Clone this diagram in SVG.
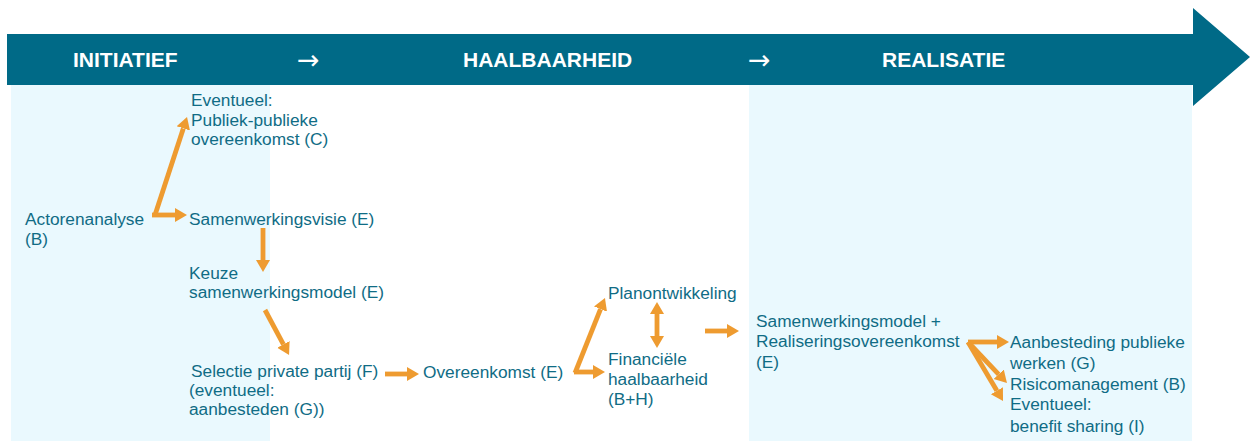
<svg xmlns="http://www.w3.org/2000/svg" width="1250" height="441" viewBox="0 0 1250 441">
<style>
.t{font-family:"Liberation Sans",Arial,sans-serif;font-size:17.3px;fill:#106C85}
.h{font-family:"Liberation Sans",Arial,sans-serif;font-size:21px;font-weight:bold;fill:#ffffff}
.ar{font-family:"DejaVu Sans",sans-serif;font-size:27px;fill:#ffffff}
.c{stroke:#EE9B30;stroke-width:4.8;fill:none}
</style>
<defs>
<marker id="ah" markerUnits="userSpaceOnUse" viewBox="0 -7.5 12 15" markerWidth="12" markerHeight="15" refX="0" refY="0" orient="auto-start-reverse">
<path d="M0,-7 L12,0 L0,7 z" fill="#EE9B30"/>
</marker>
</defs>
<rect width="1250" height="441" fill="#ffffff"/>
<g id="panels">
<rect x="11" y="84" width="259" height="357" fill="#EAF9FE"/>
<rect x="749" y="84" width="443" height="357" fill="#EAF9FE"/>
</g>
<g id="banner">
<path d="M7,34 H1193 V8 L1250,57 L1193,106 V85 H7 Z" fill="#006A87"/>
<text class="h" x="73" y="67">INITIATIEF</text>
<text class="ar" x="297" y="69">→</text>
<text class="h" x="463" y="67">HAALBAARHEID</text>
<text class="ar" x="748" y="69">→</text>
<text class="h" x="882" y="67">REALISATIE</text>
</g>
<g id="n-actorenanalyse"><text class="t" x="25" y="225">Actorenanalyse<tspan x="25" y="245">(B)</tspan></text></g>
<g id="n-publiek"><text class="t" x="191" y="106">Eventueel:<tspan x="191" y="126">Publiek-publieke</tspan><tspan x="191" y="145">overeenkomst (C)</tspan></text></g>
<g id="n-visie"><text class="t" x="189" y="225">Samenwerkingsvisie (E)</text></g>
<g id="n-keuze"><text class="t" x="189" y="279">Keuze<tspan x="189" y="298">samenwerkingsmodel (E)</tspan></text></g>
<g id="n-selectie"><text class="t" x="191" y="377">Selectie private partij (F)<tspan x="189" y="396">(eventueel:</tspan><tspan x="189" y="415">aanbesteden (G))</tspan></text></g>
<g id="n-overeenkomst"><text class="t" x="423" y="378">Overeenkomst (E)</text></g>
<g id="n-planontwikkeling"><text class="t" x="608" y="299">Planontwikkeling</text></g>
<g id="n-financieel"><text class="t" x="608" y="365">Financiële<tspan x="608" y="385">haalbaarheid</tspan><tspan x="608" y="405">(B+H)</tspan></text></g>
<g id="n-realisering"><text class="t" x="756" y="327">Samenwerkingsmodel +<tspan x="756" y="347">Realiseringsovereenkomst</tspan><tspan x="756" y="368">(E)</tspan></text></g>
<g id="n-aanbesteding"><text class="t" x="1010" y="348">Aanbesteding publieke<tspan x="1010" y="369">werken (G)</tspan></text></g>
<g id="n-risico"><text class="t" x="1010" y="390">Risicomanagement (B)</text></g>
<g id="n-benefit"><text class="t" x="1010" y="410">Eventueel:<tspan x="1010" y="432">benefit sharing (I)</tspan></text></g>
<g id="connectors">
<line class="c" x1="155" y1="215" x2="183.3" y2="128.4" marker-end="url(#ah)"/>
<line class="c" x1="152" y1="215" x2="175" y2="215" marker-end="url(#ah)"/>
<line class="c" x1="263" y1="228" x2="263" y2="260" marker-end="url(#ah)"/>
<line class="c" x1="265" y1="310" x2="283.4" y2="344.4" marker-end="url(#ah)"/>
<line class="c" x1="385" y1="374" x2="407" y2="374" marker-end="url(#ah)"/>
<line class="c" x1="575" y1="373" x2="600.5" y2="309.1" marker-end="url(#ah)"/>
<line class="c" x1="574" y1="372" x2="593" y2="372" marker-end="url(#ah)"/>
<line class="c" x1="657" y1="314" x2="657" y2="336" marker-start="url(#ah)" marker-end="url(#ah)"/>
<line class="c" x1="705" y1="331" x2="727" y2="331" marker-end="url(#ah)"/>
<line class="c" x1="968" y1="342" x2="997" y2="342" marker-end="url(#ah)"/>
<line class="c" x1="968" y1="342" x2="998.7" y2="374.3" marker-end="url(#ah)"/>
<line class="c" x1="968" y1="342" x2="996.9" y2="390.7" marker-end="url(#ah)"/>
</g>
</svg>
